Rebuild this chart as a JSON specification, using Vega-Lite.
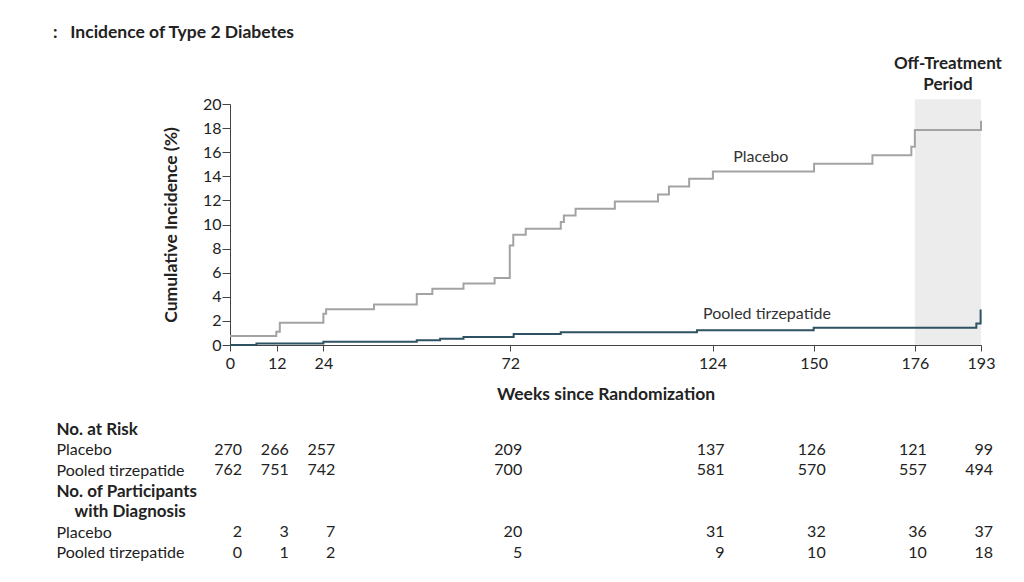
{
  "$schema": "https://vega.github.io/schema/vega-lite/v6.json",
  "padding": {"left": 53, "top": 23, "right": 5, "bottom": 5},
  "config": {"view": {"stroke": null}, "font": "Lato"},
  "title": {"text": ":\u00a0\u00a0\u00a0Incidence of Type 2 Diabetes", "anchor": "start", "fontSize": 17.5, "fontWeight": "bold", "color": "#222222", "offset": 14, "dx": -3},
  "datasets": {
    "curves": [
      {"group": "Placebo", "week": 0, "pct": 0.74},
      {"group": "Placebo", "week": 11.9, "pct": 1.11},
      {"group": "Placebo", "week": 12.8, "pct": 1.85},
      {"group": "Placebo", "week": 24.0, "pct": 2.59},
      {"group": "Placebo", "week": 24.7, "pct": 2.96},
      {"group": "Placebo", "week": 37.0, "pct": 3.37},
      {"group": "Placebo", "week": 48.0, "pct": 4.23},
      {"group": "Placebo", "week": 52.0, "pct": 4.66},
      {"group": "Placebo", "week": 60.0, "pct": 5.10},
      {"group": "Placebo", "week": 68.0, "pct": 5.55},
      {"group": "Placebo", "week": 71.9, "pct": 8.25},
      {"group": "Placebo", "week": 72.8, "pct": 9.15},
      {"group": "Placebo", "week": 76.0, "pct": 9.65},
      {"group": "Placebo", "week": 85.0, "pct": 10.2},
      {"group": "Placebo", "week": 85.8, "pct": 10.75},
      {"group": "Placebo", "week": 88.8, "pct": 11.3},
      {"group": "Placebo", "week": 98.9, "pct": 11.9},
      {"group": "Placebo", "week": 110.0, "pct": 12.5},
      {"group": "Placebo", "week": 112.8, "pct": 13.15},
      {"group": "Placebo", "week": 118.0, "pct": 13.8},
      {"group": "Placebo", "week": 124.1, "pct": 14.4},
      {"group": "Placebo", "week": 150.1, "pct": 15.05},
      {"group": "Placebo", "week": 165.1, "pct": 15.75},
      {"group": "Placebo", "week": 175.1, "pct": 16.45},
      {"group": "Placebo", "week": 176.0, "pct": 17.85},
      {"group": "Placebo", "week": 193.0, "pct": 18.6},
      {"group": "Pooled tirzepatide", "week": 0, "pct": 0},
      {"group": "Pooled tirzepatide", "week": 6.8, "pct": 0.13},
      {"group": "Pooled tirzepatide", "week": 24.0, "pct": 0.26},
      {"group": "Pooled tirzepatide", "week": 48.0, "pct": 0.39},
      {"group": "Pooled tirzepatide", "week": 54.0, "pct": 0.52},
      {"group": "Pooled tirzepatide", "week": 60.0, "pct": 0.66},
      {"group": "Pooled tirzepatide", "week": 72.9, "pct": 0.92},
      {"group": "Pooled tirzepatide", "week": 85.0, "pct": 1.05},
      {"group": "Pooled tirzepatide", "week": 120.0, "pct": 1.22},
      {"group": "Pooled tirzepatide", "week": 150.0, "pct": 1.44},
      {"group": "Pooled tirzepatide", "week": 191.8, "pct": 1.78},
      {"group": "Pooled tirzepatide", "week": 192.9, "pct": 2.95}
    ],
    "period": [{"start": 176, "end": 193, "lo": 0, "hi": 20.4, "label": "Off-Treatment Period", "mid": 184.5, "labelY": 23.3}],
    "labels": [
      {"label": "Placebo", "week": 136.4, "pct": 15.6},
      {"label": "Pooled tirzepatide", "week": 138.0, "pct": 2.57}
    ],
    "table": [
      {"row": "r2", "week": 0, "n": 270}, {"row": "r2", "week": 12, "n": 266}, {"row": "r2", "week": 24, "n": 257}, {"row": "r2", "week": 72, "n": 209},
      {"row": "r2", "week": 124, "n": 137}, {"row": "r2", "week": 150, "n": 126}, {"row": "r2", "week": 176, "n": 121}, {"row": "r2", "week": 193, "n": 99},
      {"row": "r3", "week": 0, "n": 762}, {"row": "r3", "week": 12, "n": 751}, {"row": "r3", "week": 24, "n": 742}, {"row": "r3", "week": 72, "n": 700},
      {"row": "r3", "week": 124, "n": 581}, {"row": "r3", "week": 150, "n": 570}, {"row": "r3", "week": 176, "n": 557}, {"row": "r3", "week": 193, "n": 494},
      {"row": "r6", "week": 0, "n": 2}, {"row": "r6", "week": 12, "n": 3}, {"row": "r6", "week": 24, "n": 7}, {"row": "r6", "week": 72, "n": 20},
      {"row": "r6", "week": 124, "n": 31}, {"row": "r6", "week": 150, "n": 32}, {"row": "r6", "week": 176, "n": 36}, {"row": "r6", "week": 193, "n": 37},
      {"row": "r7", "week": 0, "n": 0}, {"row": "r7", "week": 12, "n": 1}, {"row": "r7", "week": 24, "n": 2}, {"row": "r7", "week": 72, "n": 5},
      {"row": "r7", "week": 124, "n": 9}, {"row": "r7", "week": 150, "n": 10}, {"row": "r7", "week": 176, "n": 10}, {"row": "r7", "week": 193, "n": 18}
    ]
  },
  "vconcat": [
    {
      "width": 751,
      "height": 241,
      "layer": [
        {
          "data": {"name": "period"},
          "mark": {"type": "rect", "color": "#ececec"},
          "encoding": {
            "x": {"field": "start", "type": "quantitative", "scale": {"domain": [0, 193], "nice": false, "zero": false},
              "axis": {"values": [0, 12, 24, 72, 124, 150, 176, 193], "title": "Weeks since Randomization", "grid": false, "tickSize": 6, "labelFontSize": 16, "labelColor": "#222222", "labelPadding": 4, "labelOverlap": false, "titleFontSize": 17.5, "titleFontWeight": "bold", "titleColor": "#222222", "titlePadding": 14, "domainColor": "#444444", "tickColor": "#444444", "labelFlush": false}},
            "x2": {"field": "end"},
            "y": {"field": "lo", "type": "quantitative", "scale": {"domain": [0, 20], "nice": false},
              "axis": {"values": [0, 2, 4, 6, 8, 10, 12, 14, 16, 18, 20], "tickCount": 11, "title": "Cumulative Incidence (%)", "grid": false, "tickSize": 8, "labelFontSize": 16, "labelColor": "#222222", "labelPadding": 1, "labelOverlap": false, "titleFontSize": 17.5, "titleFontWeight": "bold", "titleColor": "#222222", "titlePadding": 22, "domainColor": "#444444", "tickColor": "#444444"}},
            "y2": {"field": "hi"}
          }
        },
        {
          "data": {"name": "period"},
          "mark": {"type": "text", "fontSize": 17, "fontWeight": "bold", "color": "#222222", "lineBreak": " ", "lineHeight": 21, "baseline": "middle", "align": "center"},
          "encoding": {
            "x": {"field": "mid", "type": "quantitative"},
            "y": {"field": "labelY", "type": "quantitative"},
            "text": {"field": "label"}
          }
        },
        {
          "data": {"name": "curves"},
          "mark": {"type": "line", "interpolate": "step-after", "strokeWidth": 2},
          "encoding": {
            "x": {"field": "week", "type": "quantitative"},
            "y": {"field": "pct", "type": "quantitative"},
            "color": {"field": "group", "type": "nominal", "scale": {"domain": ["Placebo", "Pooled tirzepatide"], "range": ["#a3a3a3", "#2e5261"]}, "legend": null}
          }
        },
        {
          "data": {"name": "labels"},
          "mark": {"type": "text", "fontSize": 16, "color": "#333333", "baseline": "middle", "align": "center"},
          "encoding": {
            "x": {"field": "week", "type": "quantitative"},
            "y": {"field": "pct", "type": "quantitative"},
            "text": {"field": "label"}
          }
        }
      ]
    },
    {
      "width": 751,
      "height": 144,
      "data": {"name": "table"},
      "mark": {"type": "text", "fontSize": 16, "color": "#222222", "align": "right", "dx": 12, "baseline": "middle"},
      "encoding": {
        "x": {"field": "week", "type": "quantitative", "scale": {"domain": [0, 193], "nice": false, "zero": false}, "axis": null},
        "y": {"field": "row", "type": "ordinal", "scale": {"domain": ["r1", "r2", "r3", "r4", "r5", "r6", "r7"], "paddingInner": 0, "paddingOuter": 0},
          "axis": {"title": null, "ticks": false, "domain": false, "labelAlign": "left", "labelBaseline": "middle", "labelLimit": 400, "labelColor": "#222222", "labelOverlap": false,
            "labelExpr": "{'r1': 'No. at Risk', 'r2': 'Placebo', 'r3': 'Pooled tirzepatide', 'r4': 'No. of Participants', 'r5': 'with Diagnosis', 'r6': 'Placebo', 'r7': 'Pooled tirzepatide'}[datum.value]",
            "labelPadding": {"condition": {"test": "datum.value == 'r5'", "value": 156}, "value": 174},
            "labelFontSize": {"condition": {"test": "indexof(['r1','r4','r5'], datum.value) >= 0", "value": 17}, "value": 16},
            "labelFontWeight": {"condition": {"test": "indexof(['r1','r4','r5'], datum.value) >= 0", "value": "bold"}, "value": "normal"}}},
        "text": {"field": "n", "type": "quantitative"}
      }
    }
  ],
  "spacing": 16
}
